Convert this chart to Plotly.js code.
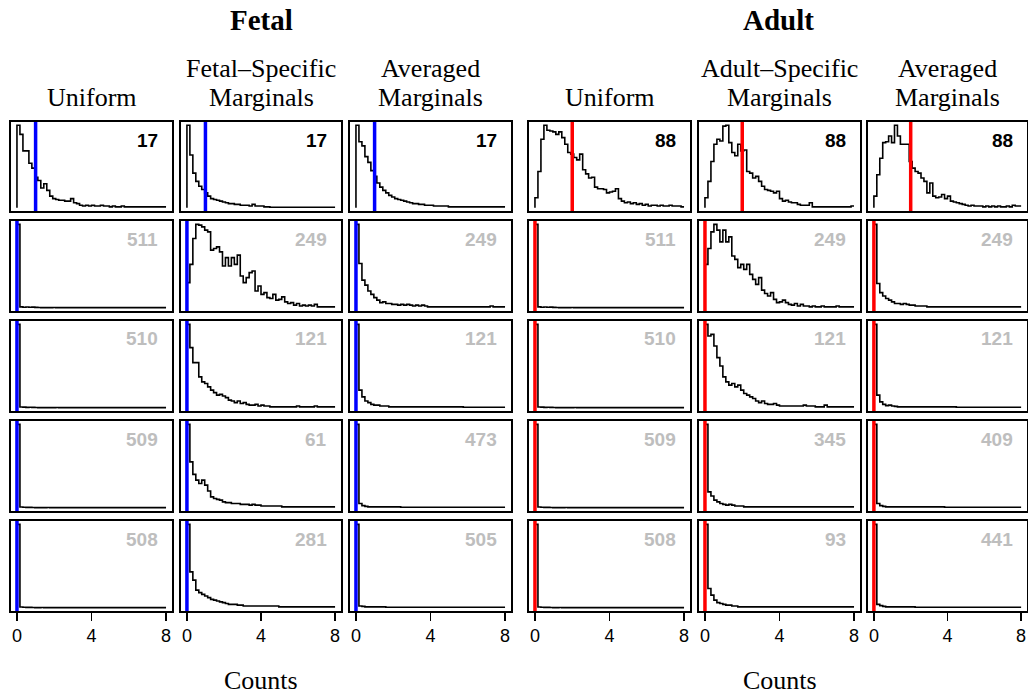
<!DOCTYPE html>
<html>
<head>
<meta charset="utf-8">
<script src="https://cdn.plot.ly/plotly-3.0.1.min.js"></script>
<style>
  html, body { margin: 0; padding: 0; background: #ffffff; }
  #chart { width: 1028px; height: 696px; }
</style>
</head>
<body>
<div id="chart"></div>
<script>
// Histograms of simulated counts (relative bin heights, tallest bin = 100).
// Bins are 0.16 wide starting at 0; the last listed value runs on to 8.
const binWidth = 0.16;
const countMax = 8;
const tickValues = [0, 4, 8];

// Fetal, uniform weights (rows 1-5)
const fetalUniform = [
  [100,89,69,69,54,48,37,33,24,29,21,14,11,10,9,9,8,8,11,6,5,3,2,3,2,3,2,2,3,2,2,1,2,1,1,2,1,1,1,1,1,1,1,1,1,1,1,1,1,1],
  [100,1,0.5,0.8,0.5,0.6,0.3,0.2,0,0,0,0,0.2,0],
  [100,0.8,0.6,0.4,0.5,0.3,0.2,0,0,0,0,0,0,0.2,0],
  [100,0.8,0.5,0.4,0.3,0.2,0,0,0,0,0.2,0],
  [100,0.8,0.5,0.4,0.3,0.2,0,0,0.2,0]
];
// Fetal, fetal-specific marginals
const fetalSpecific = [
  [100,64,42,32,26,22,18,14,11,10,9,8,7,6,5,5,4,4,3,3,3,2,4,2,2,2,1,1,0.5,0.5,0.5,0.5,0.5,0.5,0.5,0.5,0.5,0.5,0.5,0.5,0.5,0.5,0.5,0.5,0.5,0.5,0.5,0.5,0.5,0.5],
  [30,52,83,100,99,97,93,91,69,71,73,67,50,60,50,60,52,63,38,30,36,42,44,20,26,16,18,12,11,16,9,10,13,7,5,6,3,5,2,3,2,3,2,4,1,1,1,1,1,1],
  [100,72,54,54,37,31,29,25,21,18,15,16,14,12,9,8,6,8,5,6,4,3,3,4,2,3,2,2,1,1,1,1,1,1,1,1,1,2,1,1,1,1,1,2,1,1,1,1,1,1],
  [100,55,40,33,29,33,27,20,13,11,10,9,7,6,6,5,5,5,4,4,4,3,4,3,3,2,2,2,2,2,2,2,1,1,1,1,1,1,1,1,1,1,1,1,1,1,1,1,1,1],
  [100,43,33,21,18,16,14,12,10,9,8,7,6,5,4,4,4,3,3,2,2,2,2,2,2,2,2,2,2,2,2,1,1,1,1,1,1,1,1,1,1,1,1,1,1,1,1,1,1,1]
];
// Fetal, averaged marginals
const fetalAveraged = [
  [100,80,75,62,55,45,38,30,25,21,18,15,13,11,10,9,8,7,6,5,5,4,4,3,3,3,2,2,2,2,2,1,1,1,1,1,1,1,1,1,1,1,1,1,1,1,1,1,1,1],
  [100,53,33,27,20,16,12,9,6,7,5,5,4,4,3,4,3,4,3,2,3,2,3,2,1,1,1,1,1,1,1,1,1,1,1,1,1,1,1,1,1,1,1,1,1,2,1,1,1,1],
  [100,21,13,8,6,4,3,3,2,2,2,1,1,1,1,1,1,1,1,1,1,1,1,1,1,1,1,1,1,1,1,1,1,1,1,1,0.5],
  [100,5,2.4,1.6,1,1,1,1,1,1,1,1,1,1,1,0.5],
  [100,2,1.5,1,1,1,1,1,1,1,0.5]
];
// Adult, uniform weights
const adultUniform = [
  [12,44,83,100,94,93,92,89,92,85,77,67,65,61,58,65,46,41,36,37,25,23,23,22,18,19,20,23,11,8,6,7,5,6,4,5,3,4,2,3,3,2,3,2,2,3,2,2,2,1],
  [100,1,0.5,0.8,0.5,0.6,0.3,0.2,0,0,0,0,0.2,0],
  [100,0.8,0.6,0.4,0.5,0.3,0.2,0,0,0,0,0,0,0.2,0],
  [100,0.8,0.5,0.4,0.3,0.2,0,0,0,0,0.2,0],
  [100,0.8,0.5,0.4,0.3,0.2,0,0,0.2,0]
];
// Adult, adult-specific marginals
const adultSpecific = [
  [12,32,56,77,83,81,99,100,79,67,63,77,69,70,44,42,36,38,32,26,22,21,20,18,20,11,8,9,7,6,6,4,3,3,3,6,1,1,1,1,1,1,1,1,1,1,1,1,1,2],
  [52,71,91,100,93,79,93,79,85,62,58,48,52,46,52,40,34,28,36,21,17,14,18,10,6,7,9,6,4,3,5,2,4,2,2,1,2,1,1,2,1,1,1,1,2,1,1,1,1,1],
  [100,86,88,74,60,50,37,31,27,29,25,27,21,17,15,13,11,8,6,8,5,4,4,5,3,2,2,2,2,2,2,2,2,3,2,2,2,1,1,1,3,1,1,1,1,1,1,1,1,1],
  [100,19,14,9,7,5,4,3,4,3,2,2,2,1,1,1,1,1,1,1,1,1,1,1,1,1,1,1,1,1,1,1,1,1,1,1,1,1,1,1,1,1,1,1,1,1,1,1,1,1],
  [100,23,15,9,6,5,4,3,3,2,2,1,1,1,1,1,1,1,1,1,1,1,1,1,1,1,1,1,1,1,1,1,1,1,1,1,1,1,1,1,1,1,1,1,1,1,1,1,1,1]
];
// Adult, averaged marginals
const adultAveraged = [
  [14,40,60,79,80,87,79,100,87,77,77,77,56,48,44,42,36,32,18,30,14,12,13,16,11,14,8,7,6,5,4,3,2,3,2,2,2,1,2,1,2,1,2,1,1,2,1,3,2,2],
  [100,29,18,14,11,9,7,5,5,4,5,4,3,3,2,2,2,2,1,1,1,1,1,1,1,1,1,1,1,1,1,1,1,1,1,1,1,1,1,1,1,1,1,1,1,1,1,1,1,1],
  [100,15,7,4,2.4,3,2,1.5,1,1,1,1,1,1,1,1,1,1,1,1,1,1,1,1,1,1,1,1,0.5],
  [100,5,2.4,1.5,1,1,1,1,1,1,1,1,1,1,1,1,1,1,1,1,1,1,1,1,0.5],
  [100,4,2.4,1.5,1,1,1,1,1,1,1,1,1,1,0.5]
];

// Number shown in each panel (rows 1-5), per column
const fetalUniformN  = [17, 511, 510, 509, 508];
const fetalSpecificN = [17, 249, 121, 61, 281];
const fetalAveragedN = [17, 249, 121, 473, 505];
const adultUniformN  = [88, 511, 510, 509, 508];
const adultSpecificN = [88, 249, 121, 345, 93];
const adultAveragedN = [88, 249, 121, 409, 441];

// Observed value marked by the vertical line in each row
const fetalMarker = [1, 0, 0, 0, 0];
const adultMarker = [2, 0, 0, 0, 0];

const groupTitles = ['Fetal', 'Adult'];
const columnTitles = [
  ['', 'Uniform'], ['Fetal\u2013Specific', 'Marginals'], ['Averaged', 'Marginals'],
  ['', 'Uniform'], ['Adult\u2013Specific', 'Marginals'], ['Averaged', 'Marginals']
];
const xTitle = 'Counts';

const columns = [
  { hist: fetalUniform,  n: fetalUniformN,  marker: fetalMarker, color: '#0000FF' },
  { hist: fetalSpecific, n: fetalSpecificN, marker: fetalMarker, color: '#0000FF' },
  { hist: fetalAveraged, n: fetalAveragedN, marker: fetalMarker, color: '#0000FF' },
  { hist: adultUniform,  n: adultUniformN,  marker: adultMarker, color: '#FF0000' },
  { hist: adultSpecific, n: adultSpecificN, marker: adultMarker, color: '#FF0000' },
  { hist: adultAveraged, n: adultAveragedN, marker: adultMarker, color: '#FF0000' }
];

// ---- page geometry (pixels) ----
const W = 1028, H = 696;
const colLeft  = [11, 181, 350, 529, 699, 868];
const colRight = [172, 341, 511, 690, 860, 1027];
const rowTop    = [122, 221, 321, 421, 521];
const rowBottom = [211, 311, 411, 511, 611];
const px = v => v / W;
const py = v => 1 - v / H;

const serif = '"Liberation Serif", "Times New Roman", Times, serif';
const sans = '"Liberation Sans", Arial, Helvetica, sans-serif';

function stepLine(h) {
  const x = [0], y = [0];
  h.forEach((v, i) => { x.push(i * binWidth); y.push(v); });
  x.push(countMax); y.push(h[h.length - 1]);
  return { x, y };
}

const traces = [];
const layout = {
  width: W, height: H,
  margin: { l: 0, r: 0, t: 0, b: 0 },
  paper_bgcolor: '#ffffff', plot_bgcolor: '#ffffff',
  font: { family: sans, size: 18, color: '#000000' },
  showlegend: false,
  shapes: [], annotations: []
};

columns.forEach((col, c) => {
  col.hist.forEach((h, r) => {
    const k = c * 5 + r + 1;
    const xa = 'x' + k, ya = 'y' + k;
    const s = stepLine(h);
    traces.push({
      type: 'scatter', mode: 'lines', x: s.x, y: s.y,
      xaxis: xa, yaxis: ya, hoverinfo: 'skip',
      line: { shape: 'hv', color: '#000000', width: 1.6 }
    });
    const bottom = r === 4;
    layout['xaxis' + k] = {
      domain: [px(colLeft[c]), px(colRight[c])], anchor: ya,
      range: [-0.32, 8.32], showgrid: false, zeroline: false,
      showline: true, mirror: true, linecolor: '#000000', linewidth: 1.8,
      tickmode: 'array', tickvals: tickValues, ticktext: tickValues.map(String),
      ticks: bottom ? 'outside' : '', ticklen: 8, tickwidth: 1.6, tickcolor: '#000000',
      showticklabels: bottom,
      tickfont: { family: sans, size: 18, color: '#000000' }
    };
    layout['yaxis' + k] = {
      domain: [py(rowBottom[r]), py(rowTop[r])], anchor: xa,
      range: [-4, 104], showgrid: false, zeroline: false,
      showline: true, mirror: true, linecolor: '#000000', linewidth: 1.8,
      ticks: '', showticklabels: false
    };
    // vertical marker at the observed value
    layout.shapes.push({
      type: 'line', xref: xa, yref: ya + ' domain',
      x0: col.marker[r], x1: col.marker[r], y0: 0, y1: 1,
      line: { color: col.color, width: 3.5 }, layer: 'above'
    });
    // panel number, black in the first row and grey below
    layout.annotations.push({
      xref: 'paper', yref: 'paper',
      x: px(colRight[c] - 12), y: py(rowTop[r] + 18),
      xanchor: 'right', yanchor: 'middle', showarrow: false,
      text: '<b>' + col.n[r] + '</b>',
      font: { family: sans, size: 19, color: r === 0 ? '#000000' : '#BEBEBE' }
    });
  });
  // column headings
  const cx = px((colLeft[c] + colRight[c]) / 2);
  columnTitles[c].forEach((t, line) => {
    if (!t) return;
    layout.annotations.push({
      xref: 'paper', yref: 'paper', x: cx, y: py(line === 0 ? 68 : 98),
      xanchor: 'center', yanchor: 'middle', showarrow: false, text: t,
      font: { family: serif, size: 26, color: '#000000' }
    });
  });
});

// group titles and x-axis titles
[[0, 2], [3, 5]].forEach((g, i) => {
  const cx = px((colLeft[g[0]] + colRight[g[1]]) / 2);
  layout.annotations.push({
    xref: 'paper', yref: 'paper', x: cx, y: py(20),
    xanchor: 'center', yanchor: 'middle', showarrow: false,
    text: '<b>' + groupTitles[i] + '</b>',
    font: { family: serif, size: 29, color: '#000000' }
  });
  const mid = g[0] + 1;
  layout.annotations.push({
    xref: 'paper', yref: 'paper', x: px((colLeft[mid] + colRight[mid]) / 2), y: py(680),
    xanchor: 'center', yanchor: 'middle', showarrow: false, text: xTitle,
    font: { family: serif, size: 26, color: '#000000' }
  });
});

Plotly.newPlot('chart', traces, layout, { staticPlot: true, displayModeBar: false });
</script>
</body>
</html>
